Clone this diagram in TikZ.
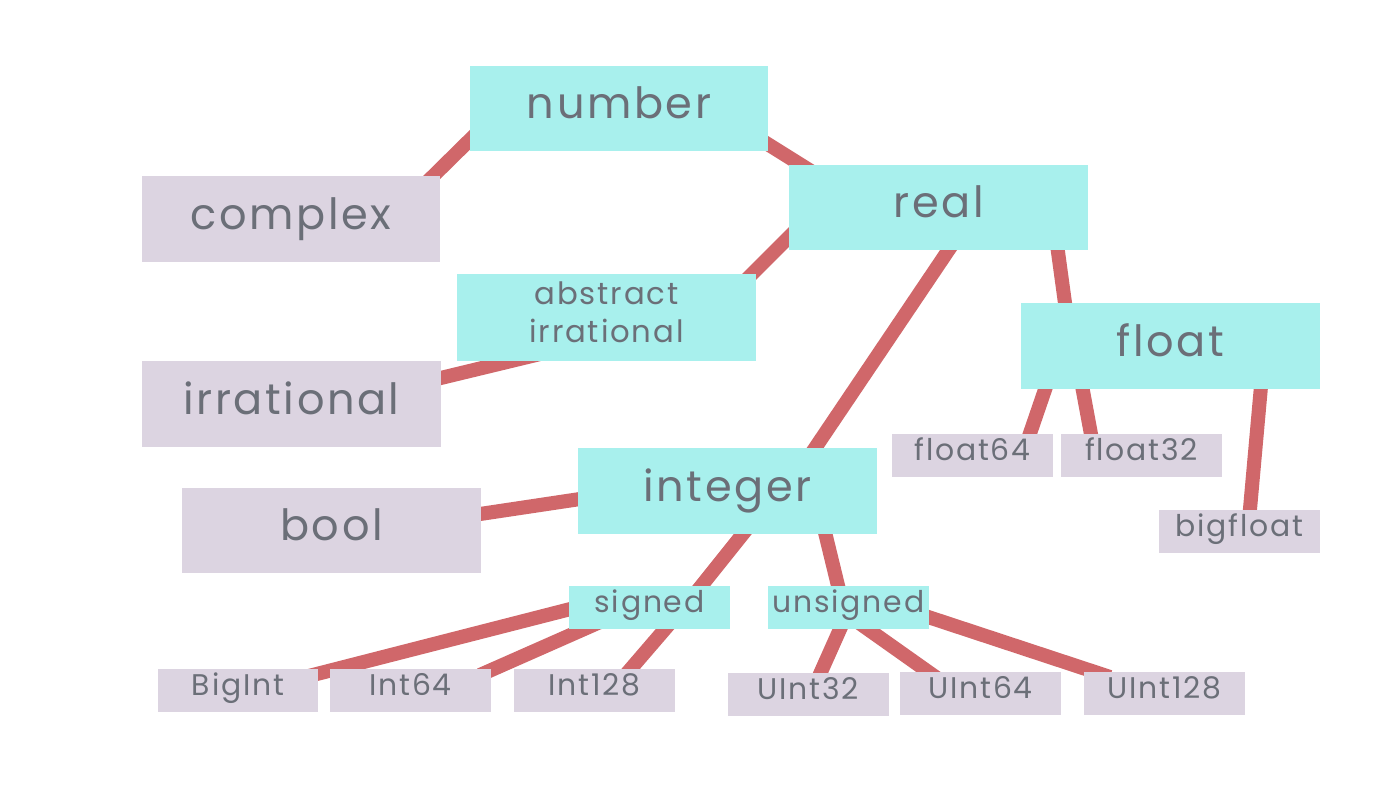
\documentclass[tikz,border=0pt]{standalone}
\usepackage{fontspec}
\setmainfont{Poppins}
\newfontfamily\boxfont[LetterSpace=6]{Poppins}
\definecolor{cy}{HTML}{A8F0ED}
\definecolor{lav}{HTML}{DCD4E1}
\definecolor{edgec}{HTML}{D0676A}
\definecolor{txt}{HTML}{6B6F78}
\pgfdeclarelayer{bg}
\pgfdeclarelayer{edges}
\pgfsetlayers{bg,edges,main}
\begin{document}
\begin{tikzpicture}[x=0.02cm,y=-0.02cm,
 every node/.style={inner sep=0pt, text=txt},
 big/.style={minimum width=5.97cm, minimum height=1.72cm, text height=17.5pt, text depth=6pt, font=\boxfont\fontsize{24.5}{28}\selectfont},
 small/.style={minimum width=3.21cm, minimum height=0.86cm, text height=12.6pt, text depth=6.4pt, font=\boxfont\fontsize{17}{20}\selectfont},
 cybox/.style={fill=cy},
 lavbox/.style={fill=lav},
 link/.style={draw=edgec, line width=8pt}]
\begin{pgfonlayer}{bg}
\fill[white] (0,0) rectangle (1400,788);
\end{pgfonlayer}
\useasboundingbox (0,0) rectangle (1400,788);

% big boxes
\node[big,cybox] (number) at (619,108.5) {number};
\node[big,cybox] (real) at (938.5,207.5) {real};
\node[big,lavbox] (complex) at (291,219) {complex};
\node[cybox,minimum width=5.97cm,minimum height=1.74cm,
  label={[name=abslbl,align=center,yshift=2.8pt,font=\boxfont\fontsize{17.5}{21.5}\selectfont]center:{abstract\\irrational}}]
  (abstract) at (606.5,317.5) {};
\node[big,lavbox] (irrational) at (291.5,404) {irrational};
\node[big,cybox] (float) at (1170.5,346) {float};
\node[big,cybox] (integer) at (727.5,491) {integer};
\node[big,lavbox] (bool) at (331.5,530.5) {bool};

% small boxes
\node[small,lavbox] (float64) at (972.5,455.5) {float64};
\node[small,lavbox] (float32) at (1141.5,455.5) {float32};
\node[small,lavbox] (bigfloat) at (1239.5,531) {bigfloat};
\node[small,cybox] (signed) at (649.5,607.5) {signed};
\node[small,cybox] (unsigned) at (848.5,607.5) {unsigned};
\node[small,lavbox] (BigInt) at (238,690) {BigInt};
\node[small,lavbox] (Int64) at (410.5,690) {Int64};
\node[small,lavbox] (Int128) at (594.5,690.5) {Int128};
\node[small,lavbox] (UInt32) at (808.5,694.5) {UInt32};
\node[small,lavbox] (UInt64) at (980.5,693.5) {UInt64};
\node[small,lavbox] (UInt128) at (1164.5,693.5) {UInt128};

\begin{pgfonlayer}{edges}
\draw[link] ([shift={(-129,11.5)}]number.center) -- ([shift={(129,-30)}]complex.center);
\draw[link] ([shift={(131,24.5)}]number.center) -- ([shift={(-108.5,-24.5)}]real.center);
\draw[link] ([shift={(-128.5,8.5)}]real.center) -- ([shift={(123.5,-21.5)}]abstract.center);
\draw[link] ([shift={(-66.5,36.5)}]abstract.center) -- ([shift={(128.5,-21)}]irrational.center);
\draw[link] ([shift={(21.5,25.5)}]real.center) -- ([shift={(77.5,-28)}]integer.center);
\draw[link] ([shift={(116.5,22.5)}]real.center) -- ([shift={(-102.5,-21)}]float.center);
\draw[link] ([shift={(-120.5,29)}]float.center) -- ([shift={(53.5,-10.5)}]float64.center);
\draw[link] ([shift={(-90.5,29)}]float.center) -- ([shift={(-48.5,-10.5)}]float32.center);
\draw[link] ([shift={(91.5,29)}]float.center) -- ([shift={(9.5,-11)}]bigfloat.center);
\draw[link] ([shift={(-127.5,5)}]integer.center) -- ([shift={(128.5,-13.5)}]bool.center);
\draw[link] ([shift={(22.5,34)}]integer.center) -- ([shift={(40.5,-7.5)}]signed.center);
\draw[link] ([shift={(40.5,-7.5)}]signed.center) -- ([shift={(27.5,-11.5)}]Int128.center);
\draw[link] ([shift={(-59.5,-3.5)}]signed.center) -- ([shift={(67,-13)}]BigInt.center);
\draw[link] ([shift={(-49.5,14.5)}]signed.center) -- ([shift={(69.5,-15)}]Int64.center);
\draw[link] ([shift={(94.5,29)}]integer.center) -- ([shift={(-7.5,-9.5)}]unsigned.center);
\draw[link] ([shift={(-3.5,10.5)}]unsigned.center) -- ([shift={(7.5,-11.5)}]UInt32.center);
\draw[link] ([shift={(6.5,12.5)}]unsigned.center) -- ([shift={(-36.5,-10.5)}]UInt64.center);
\draw[link] ([shift={(61.5,3.5)}]unsigned.center) -- ([shift={(-54.5,-16.5)}]UInt128.center);
\end{pgfonlayer}
\end{tikzpicture}
\end{document}
